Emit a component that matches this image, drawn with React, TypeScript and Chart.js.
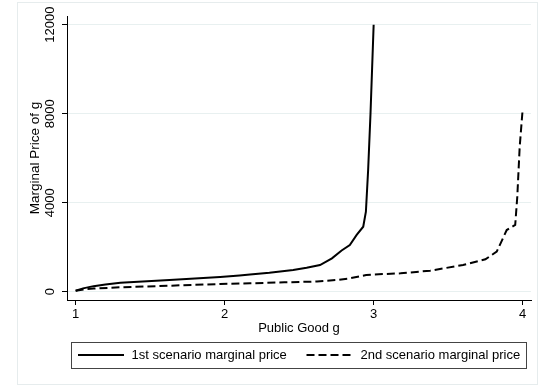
import React, { useEffect, useRef } from "react";
import { Chart, registerables } from "chart.js";

Chart.register(...registerables);

const goodG1 = [1.0, 1.05, 1.12, 1.2, 1.3, 1.45, 1.63, 1.8, 1.97, 2.1, 2.17, 2.3, 2.46, 2.55, 2.64, 2.72, 2.785, 2.84, 2.886, 2.93, 2.948, 2.963, 2.979, 3.0];
const price1 = [40, 150, 250, 320, 400, 460, 525, 590, 660, 730, 770, 850, 975, 1080, 1200, 1500, 1850, 2100, 2550, 2920, 3600, 5470, 8020, 12000];

const goodG2 = [1.0, 1.06, 1.12, 1.3, 1.63, 1.97, 2.17, 2.4, 2.57, 2.62, 2.75, 2.84, 2.95, 3.06, 3.18, 3.38, 3.6, 3.75, 3.826, 3.893, 3.95, 3.964, 3.98, 4.0];
const price2 = [40, 110, 140, 200, 270, 345, 375, 420, 450, 460, 525, 600, 750, 790, 825, 945, 1200, 1455, 1800, 2770, 3000, 4270, 6500, 8200];

const xTicks = [1, 2, 3, 4];
const yTicks = [0, 4000, 8000, 12000];
const seriesLabels = ["1st scenario marginal price", "2nd scenario marginal price"];
const xTitle = "Public Good g";
const yTitle = "Marginal Price of g";

const FONT = "'Liberation Sans', Arial, sans-serif";

const decorPlugin = {
  id: "decor",
  beforeDraw(chart: any) {
    const ctx = chart.ctx;
    ctx.save();
    ctx.fillStyle = "#ffffff";
    ctx.fillRect(0, 0, chart.width, chart.height);
    ctx.strokeStyle = "#e6eced";
    ctx.lineWidth = 1;
    ctx.strokeRect(17.5, 2.5, 520, 382);
    ctx.restore();
  },
  afterDraw(chart: any) {
    const ctx = chart.ctx;
    const ys = chart.scales.y;
    ctx.save();
    ctx.fillStyle = "#000";
    ctx.font = `13px ${FONT}`;
    ctx.textAlign = "center";
    ctx.textBaseline = "middle";
    for (const t of ys.ticks) {
      const py = ys.getPixelForValue(t.value);
      ctx.save();
      ctx.translate(50.5, py);
      ctx.rotate(-Math.PI / 2);
      ctx.fillText(String(t.value), 0, 0);
      ctx.restore();
    }
    // legend
    const bx = 71.5, by = 342.5, bw = 455, bh = 26;
    ctx.strokeStyle = "#444";
    ctx.lineWidth = 1;
    ctx.strokeRect(bx, by, bw, bh);
    const cy = 355;
    ctx.font = `13px ${FONT}`;
    ctx.textAlign = "left";
    const ds = chart.data.datasets;
    const samples = [
      { x0: 78, x1: 124, tx: 131.5 },
      { x0: 306.5, x1: 352, tx: 360.5 },
    ];
    ds.forEach((d: any, i: number) => {
      const s = samples[i];
      ctx.beginPath();
      ctx.setLineDash(d.borderDash || []);
      ctx.lineWidth = d.borderWidth;
      ctx.strokeStyle = d.borderColor;
      ctx.moveTo(s.x0, cy);
      ctx.lineTo(s.x1, cy);
      ctx.stroke();
      ctx.setLineDash([]);
      ctx.fillStyle = "#000";
      ctx.fillText(d.label, s.tx, cy + 0.5);
    });
    ctx.restore();
  },
};

export default function App() {
  const ref = useRef<HTMLCanvasElement | null>(null);
  useEffect(() => {
    if (!ref.current) return;
    const chart = new Chart(ref.current, {
      type: "scatter",
      data: {
        datasets: [
          {
            label: seriesLabels[0],
            data: goodG1.map((g, i) => ({ x: g, y: price1[i] })),
            showLine: true,
            borderColor: "#000",
            borderWidth: 2,
            pointRadius: 0,
            tension: 0,
          },
          {
            label: seriesLabels[1],
            data: goodG2.map((g, i) => ({ x: g, y: price2[i] })),
            showLine: true,
            borderColor: "#000",
            borderWidth: 2,
            borderDash: [8, 4],
            pointRadius: 0,
            tension: 0,
          },
        ],
      },
      options: {
        responsive: false,
        animation: false,
        layout: { padding: { left: 0, right: 8, top: 16, bottom: 0 } },
        plugins: {
          legend: { display: false },
          tooltip: { enabled: false },
        },
        scales: {
          x: {
            type: "linear",
            min: 0.942,
            max: 4.056,
            afterBuildTicks: (s: any) => {
              s.ticks = xTicks.map((v) => ({ value: v }));
            },
            afterFit: (s: any) => {
              s.height = 86;
            },
            ticks: {
              color: "#000",
              font: { family: FONT, size: 13 },
              padding: 2,
              maxRotation: 0,
            },
            grid: {
              drawOnChartArea: false,
              drawTicks: true,
              tickLength: 5,
              tickColor: "#000",
              tickWidth: 1,
            },
            border: { display: true, color: "#000", width: 1 },
            title: {
              display: true,
              text: xTitle,
              color: "#000",
              font: { family: FONT, size: 13 },
              padding: { top: 0, bottom: 50 },
            },
          },
          y: {
            type: "linear",
            min: -373,
            max: 12391,
            afterBuildTicks: (s: any) => {
              s.ticks = yTicks.map((v) => ({ value: v }));
            },
            afterFit: (s: any) => {
              s.width = 67;
            },
            ticks: { display: false },
            grid: {
              color: "#e8f0f0",
              lineWidth: 1,
              drawTicks: true,
              tickLength: 5,
              tickColor: "#000",
            },
            border: { display: true, color: "#000", width: 1 },
            title: {
              display: true,
              text: yTitle,
              color: "#000",
              font: { family: FONT, size: 13.5 },
              padding: { top: 27, bottom: 0 },
            },
          },
        },
      },
      plugins: [decorPlugin],
    });
    return () => chart.destroy();
  }, []);
  return (
    <div style={{ position: "absolute", left: 0, top: 0, width: 539, height: 386 }}>
      <canvas ref={ref} width={539} height={386} style={{ display: "block" }} />
    </div>
  );
}
